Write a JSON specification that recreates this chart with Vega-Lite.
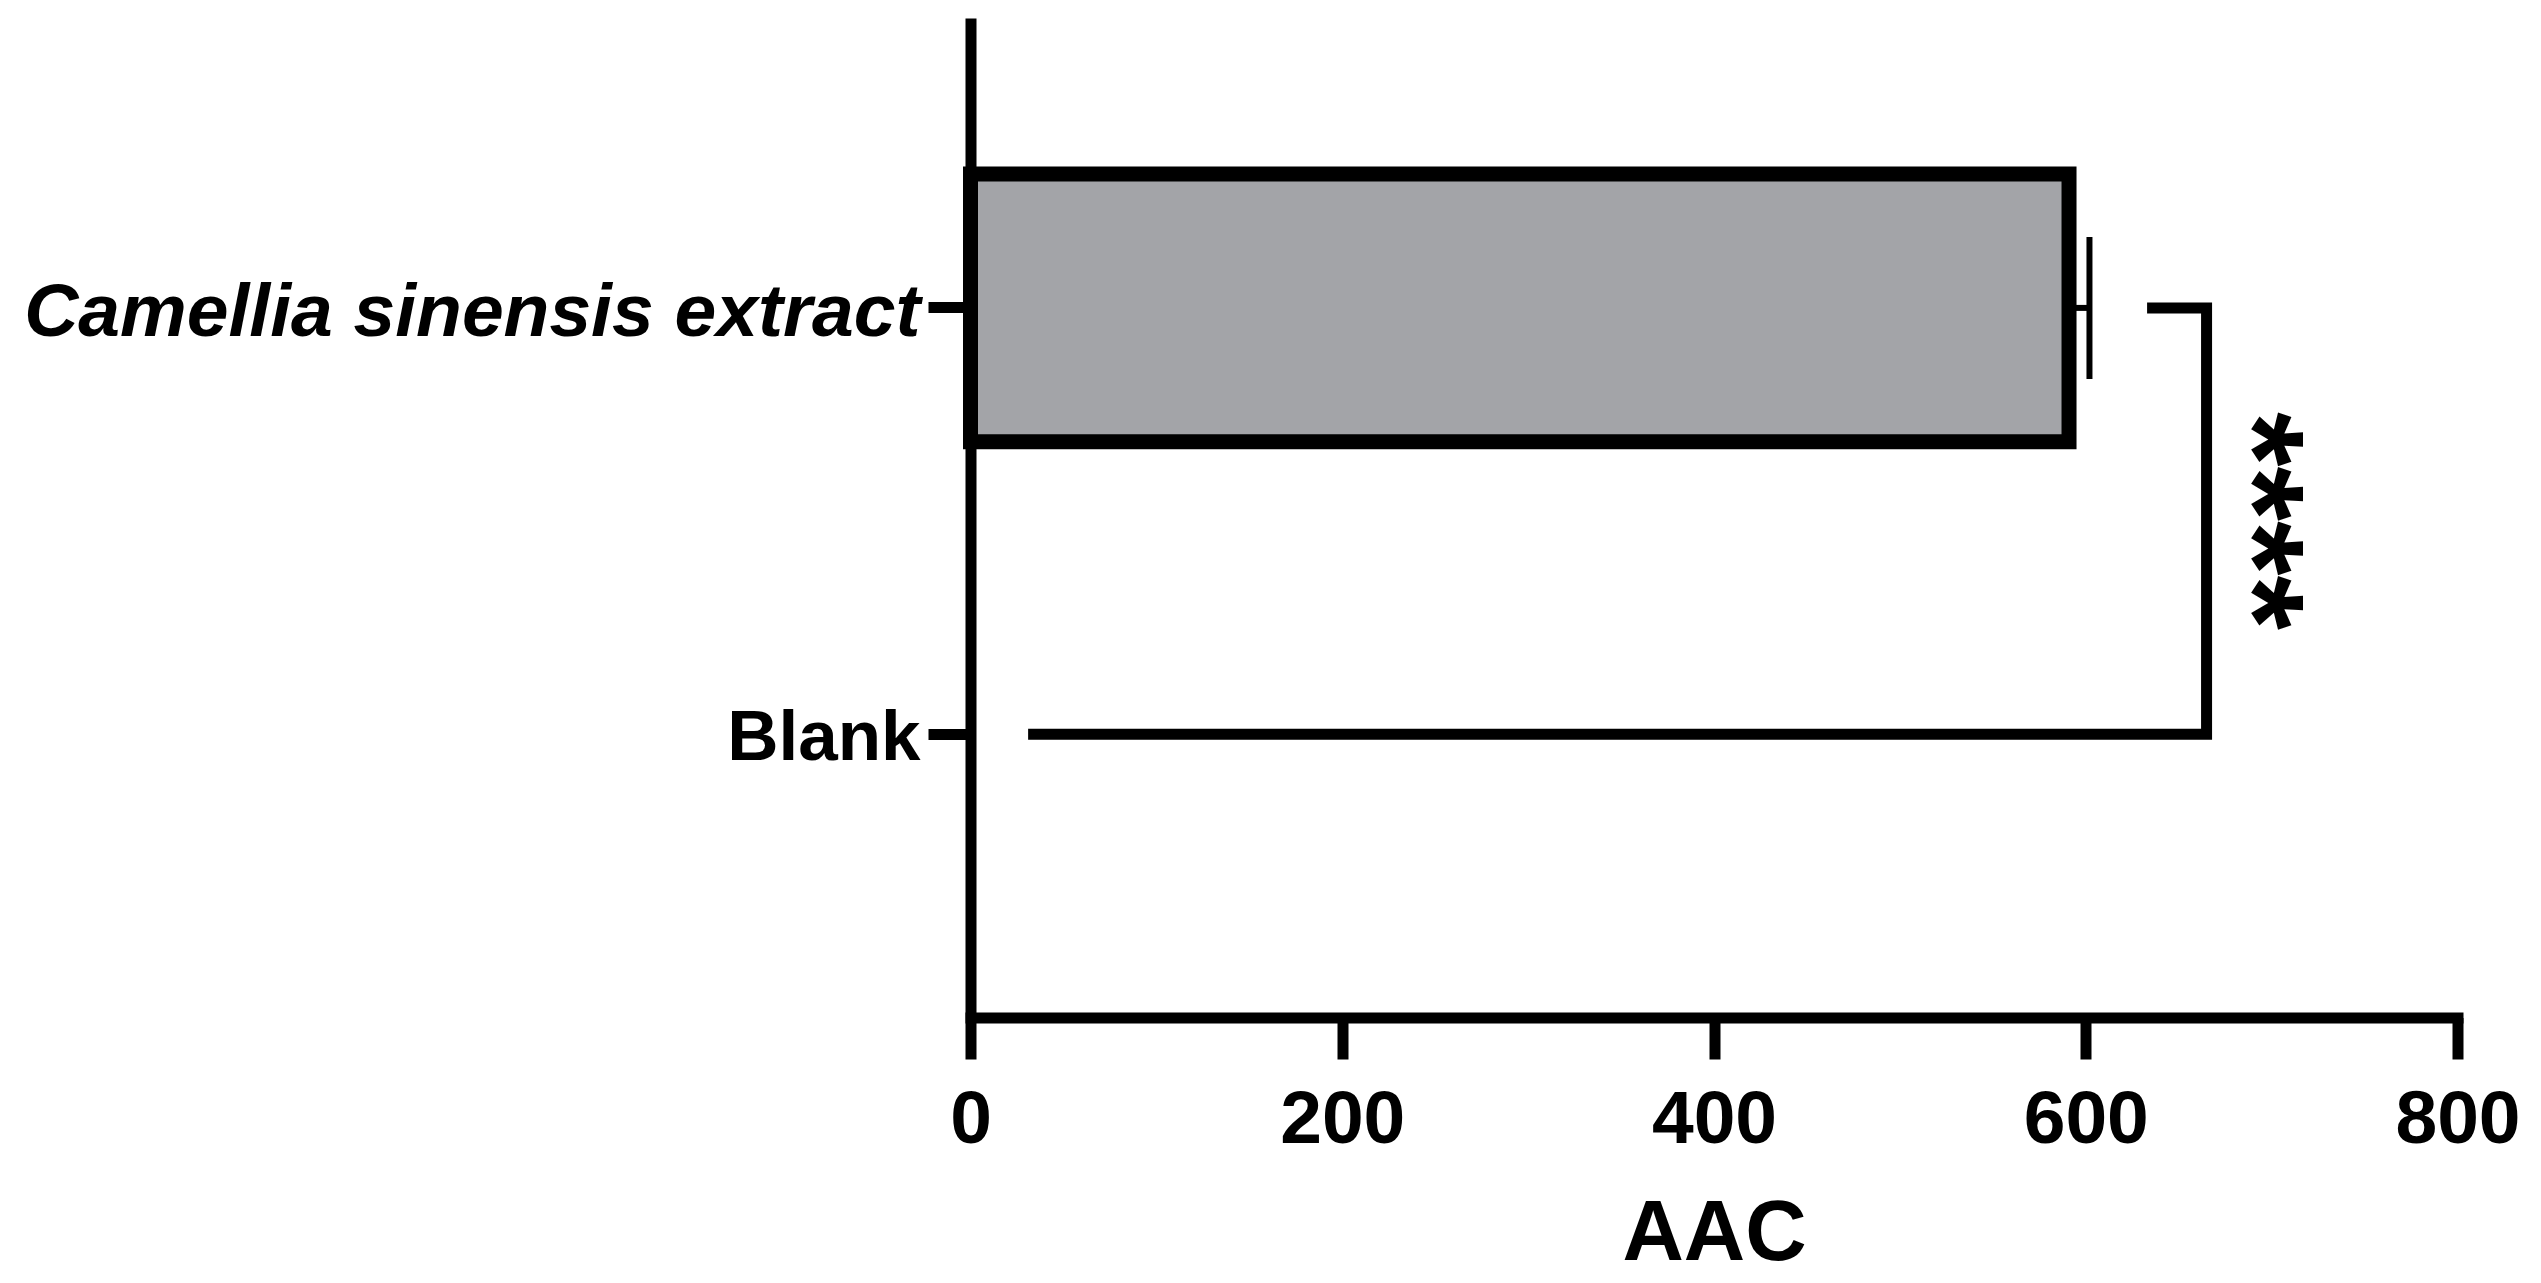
{
  "$schema": "https://vega.github.io/schema/vega-lite/v6.json",
  "autosize": {"type": "none"},
  "padding": {"left": 970.5, "top": 18, "right": 83.5, "bottom": 265.5},
  "width": 1487,
  "height": 999.5,
  "background": "white",
  "config": {
    "view": {"stroke": null},
    "font": "Liberation Sans"
  },
  "datasets": {
    "bars": [
      {"group": "Camellia sinensis extract", "mean": 591, "upper": 602},
      {"group": "Blank", "mean": 0, "upper": 0}
    ],
    "bracket": [
      {"x": 633, "group": "Camellia sinensis extract", "order": 1},
      {"x": 665, "group": "Camellia sinensis extract", "order": 2},
      {"x": 665, "group": "Blank", "order": 3},
      {"x": 31, "group": "Blank", "order": 4}
    ],
    "sig": [
      {"label": "****", "x": 688, "group": "Camellia sinensis extract"}
    ]
  },
  "layer": [
    {
      "data": {"name": "bars"},
      "transform": [{"filter": "datum.mean > 0"}],
      "mark": {"type": "bar", "fill": "#A3A4A8", "stroke": "black", "strokeWidth": 15},
      "encoding": {
        "y": {
          "field": "group", "type": "nominal",
          "sort": ["Camellia sinensis extract", "Blank"],
          "scale": {"domain": ["Camellia sinensis extract", "Blank"], "paddingInner": 0.372, "paddingOuter": 0.358, "align": 0.511},
          "axis": {
            "title": null,
            "domainColor": "black", "domainWidth": 11,
            "tickColor": "black", "tickWidth": 11, "tickSize": 42.5,
            "labelColor": "black", "labelFont": "Liberation Sans", "labelFontWeight": "bold",
            "labelFontSize": {"expr": "datum.value == 'Blank' ? 71 : 75"},
            "labelFontStyle": {"expr": "datum.value == 'Blank' ? 'normal' : 'italic'"},
            "labelPadding": 8, "labelLimit": 2000, "labelOffset": 5
          }
        },
        "x": {
          "field": "mean", "type": "quantitative",
          "scale": {"domain": [0, 800], "nice": false, "zero": true},
          "axis": {
            "values": [0, 200, 400, 600, 800],
            "grid": false,
            "domainColor": "black", "domainWidth": 11, "domainCap": "square",
            "tickColor": "black", "tickWidth": 11, "tickSize": 41.5,
            "labelColor": "black", "labelFont": "Liberation Sans", "labelFontWeight": "bold",
            "labelFontSize": 75, "labelPadding": 24, "labelFlush": false, "labelOverlap": false,
            "title": "AAC", "titleColor": "black", "titleFont": "Liberation Sans", "titleFontWeight": "bold",
            "titleFontSize": 85, "titlePadding": 35
          }
        }
      }
    },
    {
      "data": {"name": "bars"},
      "transform": [{"filter": "datum.mean > 0"}],
      "mark": {"type": "rule", "stroke": "black", "strokeWidth": 6},
      "encoding": {
        "y": {"field": "group", "type": "nominal"},
        "x": {"field": "mean", "type": "quantitative"},
        "x2": {"field": "upper"}
      }
    },
    {
      "data": {"name": "bars"},
      "transform": [{"filter": "datum.mean > 0"}],
      "mark": {"type": "tick", "orient": "vertical", "color": "black", "size": 142, "thickness": 6, "opacity": 1},
      "encoding": {
        "y": {"field": "group", "type": "nominal"},
        "x": {"field": "upper", "type": "quantitative"}
      }
    },
    {
      "data": {"name": "bracket"},
      "mark": {"type": "line", "stroke": "black", "strokeWidth": 11, "strokeJoin": "miter", "strokeCap": "butt"},
      "encoding": {
        "y": {"field": "group", "type": "nominal"},
        "x": {"field": "x", "type": "quantitative"},
        "order": {"field": "order", "type": "quantitative"}
      }
    },
    {
      "data": {"name": "sig"},
      "mark": {"type": "text", "font": "Liberation Sans", "fontWeight": "bold", "fontSize": 140, "angle": 90, "align": "center", "baseline": "middle", "yOffset": 213, "color": "black"},
      "encoding": {
        "y": {"field": "group", "type": "nominal"},
        "x": {"field": "x", "type": "quantitative"},
        "text": {"field": "label"}
      }
    }
  ]
}
